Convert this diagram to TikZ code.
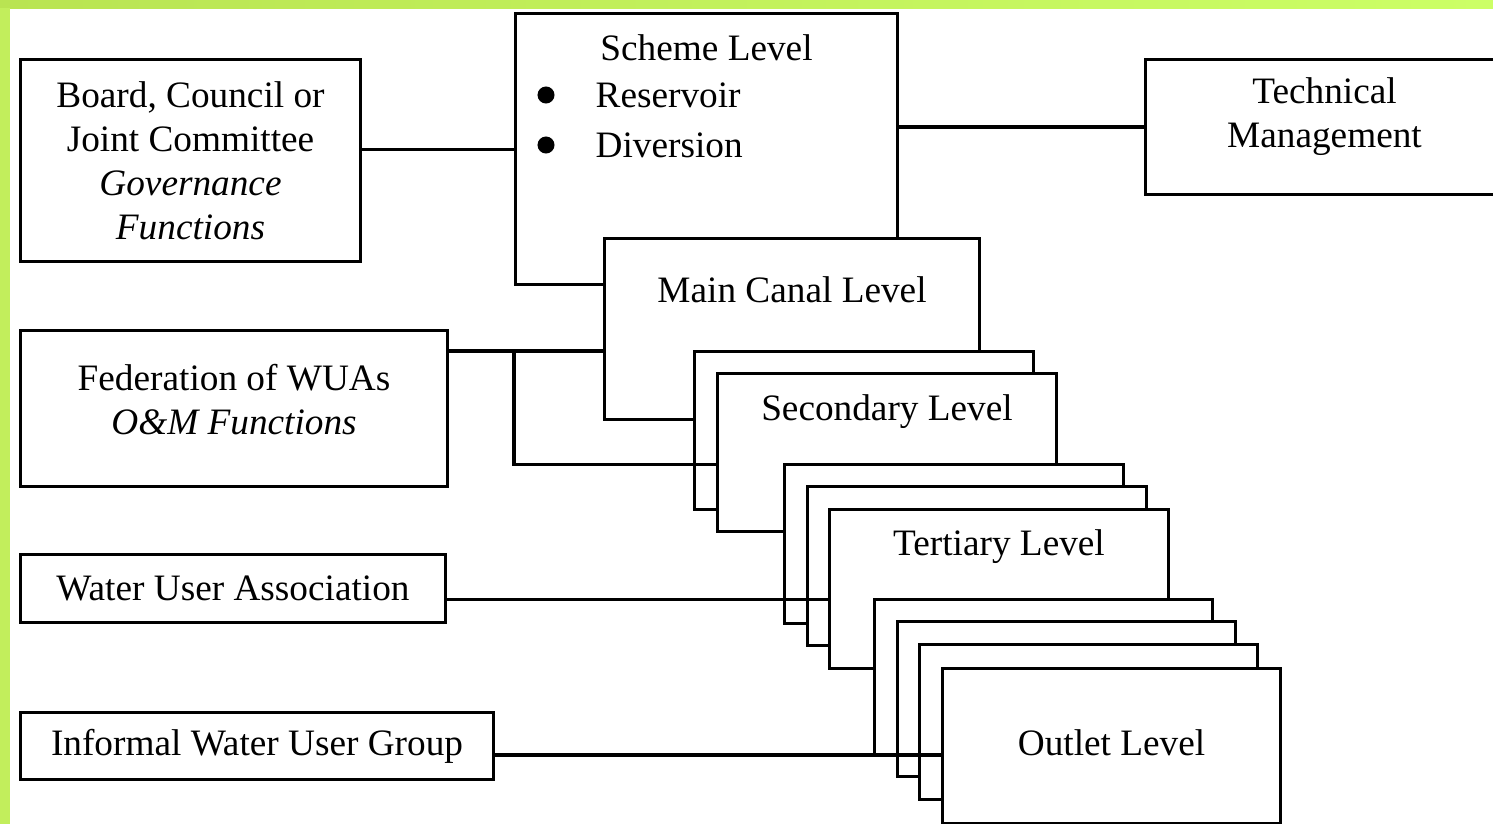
\documentclass[tikz,border=0pt]{standalone}
\usepackage{fontspec}
\setmainfont{Liberation Serif}
\usetikzlibrary{positioning}
\definecolor{limeA}{HTML}{B9E452}
\definecolor{limeB}{HTML}{CCFF66}
\definecolor{limeC}{HTML}{C2EE5C}
\tikzset{lvl/.style={draw=black,fill=white,line width=0.8pt,inner sep=0pt,anchor=north west},
  sidebox/.style={lvl,align=center,font=\fontsize{10.6}{12.5}\selectfont},
  lbl/.style={inner sep=0pt,anchor=base,font=\fontsize{10.6}{12.5}\selectfont},
  dot/.style={circle,fill=black,inner sep=0pt,minimum size=0.17cm},
  link/.style={line width=0.9pt}}

\begin{document}
\begin{tikzpicture}[x=0.01cm,y=-0.01cm]
\clip (0,0) rectangle (1493,824);
\fill[white] (0,0) rectangle (1493,824);
\shade[left color=limeA,right color=limeB] (0,0) rectangle (1493,8);
\fill[limeC] (0,8) rectangle (10,824);
% left column
\node[sidebox,minimum width=3.4cm,minimum height=2.02cm] (board) at (19,58) {Board, Council or\\Joint Committee\\\textit{Governance}\\\textit{Functions}};
\node[lvl,minimum width=4.27cm,minimum height=1.56cm] (fed) at (19,329) {};
\node[lbl,anchor=north,align=center] (fedtitle) at ([yshift=-0.35cm]fed.north) {Federation of WUAs\\\textit{O\&M Functions}};
\node[sidebox,minimum width=4.25cm,minimum height=0.68cm] (wua) at (19,553) {Water User Association};
\node[sidebox,minimum width=4.73cm,minimum height=0.67cm] (iwug) at (19,711) {Informal Water User Group};
% scheme and main canal
\node[lvl,minimum width=3.82cm,minimum height=2.71cm] (scheme) at (514,12) {};
\node[lbl] (schemetitle) at ([yshift=-0.48cm]scheme.north) {Scheme Level};
\node[dot] (dotres) at (546,95) {};
\node[lbl,anchor=base west] (reservoir) at (595,107) {Reservoir};
\node[dot] (dotdiv) at (546,145) {};
\node[lbl,anchor=base west] (diversion) at (595,157) {Diversion};
\node[lvl,minimum width=3.58cm,minimum height=1.35cm] (tech) at (1144,58) {};
\node[lbl,anchor=north,align=center] (techtitle) at ([yshift=-0.19cm]tech.north) {Technical\\Management};
\node[lvl,minimum width=3.75cm,minimum height=1.81cm] (main) at (603,237) {};
\node[lbl] (maintitle) at ([yshift=-0.65cm]main.north) {Main Canal Level};
% secondary
\node[lvl,minimum width=3.39cm,minimum height=1.58cm] (secA) at (693,350) {};
\node[lvl,minimum width=3.39cm,minimum height=1.58cm] (secB) at (716,372) {};
\node[lbl] (sectitle) at ([yshift=-0.48cm]secB.north) {Secondary Level};
% tertiary
\node[lvl,minimum width=3.39cm,minimum height=1.59cm] (terA) at (783,463) {};
\node[lvl,minimum width=3.39cm,minimum height=1.59cm] (terB) at (806,485) {};
\node[lvl,minimum width=3.39cm,minimum height=1.59cm] (terC) at (828,508) {};
\node[lbl] (tertitle) at ([yshift=-0.47cm]terC.north) {Tertiary Level};
% outlet
\node[lvl,minimum width=3.38cm,minimum height=1.55cm] (outA) at (873,598) {};
\node[lvl,minimum width=3.38cm,minimum height=1.55cm] (outB) at (896,620) {};
\node[lvl,minimum width=3.38cm,minimum height=1.55cm] (outC) at (918,643) {};
\node[lvl,minimum width=3.38cm,minimum height=1.55cm] (outD) at (941,667) {};
\node[lbl] (outtitle) at ([yshift=-0.88cm]outD.north) {Outlet Level};
% links
\draw[link] ([yshift=0.11cm]board.east) coordinate (bj) -- (bj -| scheme.west);
\draw[link] (tech.west) -- (tech.west -| scheme.east);
\draw[link] ([yshift=-0.22cm]fed.north east) coordinate (fj) -- (fj -| main.west);
\draw[link] (fj -| scheme.west) |- ([yshift=-0.12cm]secB.west);
\draw[link] ([yshift=-0.11cm]wua.east) coordinate (wj) -- (wj -| terC.west);
\draw[link] ([yshift=-0.09cm]iwug.east) coordinate (ij) -- (ij -| outD.west);
\end{tikzpicture}
\end{document}
